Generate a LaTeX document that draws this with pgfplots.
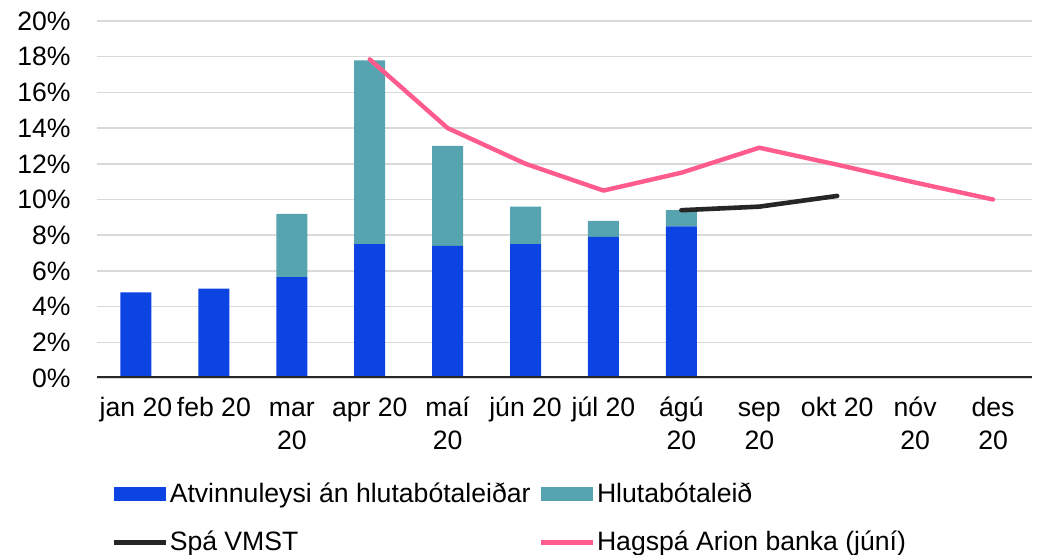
\documentclass[border=0pt]{standalone}
\usepackage{fontspec}
\setmainfont{Liberation Sans}
\usepackage{pgfplots}
\pgfplotsset{compat=1.18}

\definecolor{barblue}{HTML}{0B44E2}
\definecolor{barteal}{HTML}{55A4AF}
\definecolor{vmst}{HTML}{262626}
\definecolor{arion}{HTML}{FF5C8D}
\definecolor{gridgray}{HTML}{D9D9D9}

\newcommand{\lblfont}{\fontsize{13.3}{16.5}\selectfont}

\pgfplotsset{
  frame/.style={
    scale only axis, width=467.5pt, height=178.5pt,
    xmin=-0.5, xmax=11.5, ymin=0, ymax=20,
    axis line style={draw=none}, tick style={draw=none},
  },
  barlegend/.style={legend image code/.code={\fill[##1] (0pt,-3.5pt) rectangle (26pt,3.5pt);}},
  linelegend/.style={legend image code/.code={\draw[##1] (0pt,0pt) -- (26pt,0pt);}},
}

\begin{document}
\begin{tikzpicture}
\path[use as bounding box] (-48.5pt,-88.5pt) rectangle (475.5pt,189pt);

% bars, grid, legend
\begin{axis}[frame,
    ybar stacked, bar width=15.5pt,
    ytick={0,2,...,20}, ymajorgrids, grid style={gridgray, line width=0.75pt},
    yticklabel={\pgfmathprintnumber{\tick}\%},
    /pgf/number format/assume math mode=true,
    yticklabel style={font=\lblfont, inner sep=0pt, xshift=-13pt},
    xtick={0,...,11},
    xticklabels={\strut jan 20, \strut feb 20, \strut mar\\20, \strut apr 20, \strut maí\\20,
      \strut jún 20, \strut júl 20, \strut ágú\\20, \strut sep\\20, \strut okt 20,
      \strut nóv\\20, \strut des\\20},
    xticklabel style={font=\lblfont, align=center, inner sep=0pt, yshift=-7.5pt},
    legend columns=2, legend cell align=left,
    legend style={at={(axis description cs:0,0)}, anchor=north west,
      xshift=7pt, yshift=-51pt, draw=none, fill=none, inner sep=0pt,
      font=\lblfont, row sep=11pt, nodes={inner sep=1pt},
      /tikz/every even column/.append style={column sep=3pt}},
  ]
  \addplot[fill=barblue, draw=none, barlegend]
    coordinates {(0,4.8) (1,5.0) (2,5.65) (3,7.5) (4,7.4) (5,7.5) (6,7.9) (7,8.5)};
  \addplot[fill=barteal, draw=none, barlegend]
    coordinates {(0,0) (1,0) (2,3.55) (3,10.3) (4,5.6) (5,2.1) (6,0.9) (7,0.9)};
  \addlegendimage{draw=vmst, line width=2.2pt, linelegend}
  \addlegendimage{draw=arion, line width=2.2pt, linelegend}
  \legend{Atvinnuleysi án hlutabótaleiðar, Hlutabótaleið, Spá VMST, Hagspá Arion banka (júní)}
\end{axis}

% forecast lines
\begin{axis}[frame, hide axis]
  \addplot[vmst, line width=2.3pt, line cap=round, line join=round]
    coordinates {(7,9.4) (8,9.6) (9,10.2)};
  \addplot[arion, line width=2.2pt, line cap=round, line join=round]
    coordinates {(3,17.85) (4,14.0) (5,12.0) (6,10.5) (7,11.5) (8,12.9) (9,11.95) (10,10.95) (11,10.0)};
  \draw[vmst, line width=2pt] (rel axis cs:0,0) -- (rel axis cs:1,0);
\end{axis}
\end{tikzpicture}
\end{document}
